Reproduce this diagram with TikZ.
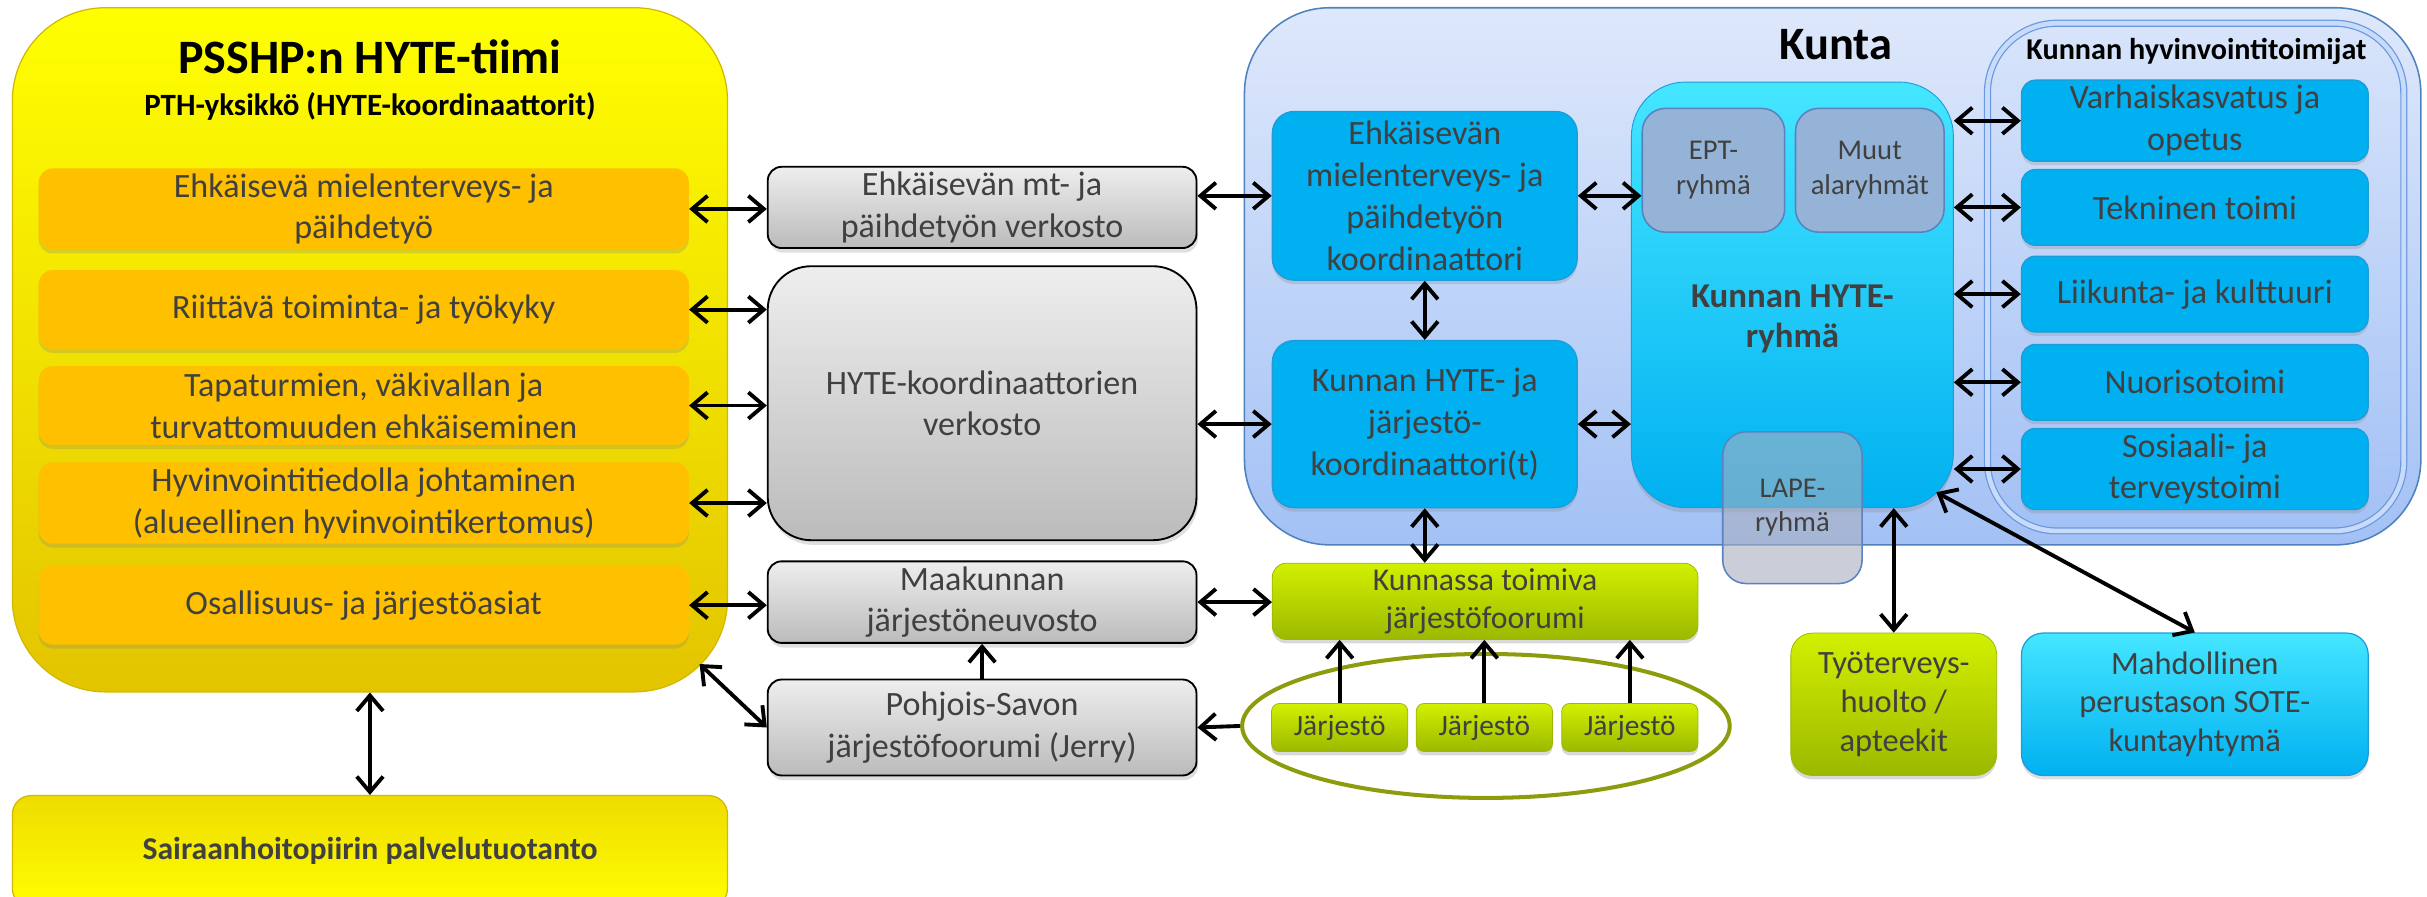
\documentclass[tikz,border=0pt]{standalone}
\usepackage{fontspec}
\setmainfont{Carlito}
\usetikzlibrary{arrows.meta,shadows,shapes.geometric}
\definecolor{textgray}{HTML}{404040}
\definecolor{yellowtop}{HTML}{FFFF00}
\definecolor{yellowbot}{HTML}{E3C400}
\definecolor{yellowedge}{HTML}{D2B800}
\definecolor{amber}{HTML}{FFC000}
\definecolor{silvertop}{HTML}{EEEEEE}
\definecolor{silverbot}{HTML}{BBBBBB}
\definecolor{kuntatop}{HTML}{DEE8FB}
\definecolor{kuntabot}{HTML}{A3C1F5}
\definecolor{kuntaedge}{HTML}{4F81BD}
\definecolor{cyanfill}{HTML}{00B0F0}
\definecolor{cyantop}{HTML}{45E6FF}
\definecolor{cyanedge}{HTML}{1E9CD8}
\definecolor{steel}{HTML}{95B3D7}
\definecolor{steeledge}{HTML}{5B82C0}
\definecolor{lapefill}{HTML}{A8AEC0}
\definecolor{limetop}{HTML}{D2F000}
\definecolor{limebot}{HTML}{9CB800}
\definecolor{olive}{HTML}{8C9C0C}
\definecolor{toimedge}{HTML}{6A98DE}
\definecolor{toimband}{HTML}{C8DBFA}
\tikzset{
        goldbox/.style={rounded corners=60pt, top color=yellowtop, bottom color=yellowbot, draw=yellowedge, line width=0.8pt, minimum width=462pt},
        amberbox/.style={rounded corners=9pt, fill=amber, minimum width=420pt, minimum height=51pt, text=textgray, align=center, font=\fontsize{22}{27}\selectfont, drop shadow={opacity=0.25, shadow xshift=0pt, shadow yshift=-2.5pt}},
        silverbox/.style={rounded corners=9pt, top color=silvertop, bottom color=silverbot, draw=black, line width=1.2pt, minimum width=277pt, text=textgray, align=center, font=\fontsize{22}{27}\selectfont, drop shadow={opacity=0.25, shadow xshift=1pt, shadow yshift=-3pt}},
        kuntabox/.style={rounded corners=55pt, top color=kuntatop, bottom color=kuntabot, draw=kuntaedge, line width=1pt},
        toimbox/.style={rounded corners=45pt, top color=kuntatop!70!toimband, bottom color=kuntabot, draw=toimedge, double=toimband, double distance=3pt, line width=0.8pt},
        cyanbox/.style={rounded corners=14pt, fill=cyanfill, draw=cyanedge, line width=0.8pt, text=textgray, align=center, font=\fontsize{22}{27}\selectfont, drop shadow={opacity=0.25, shadow xshift=0pt, shadow yshift=-2.5pt}},
        hytebox/.style={rounded corners=35pt, top color=cyantop, middle color=cyanfill, bottom color=cyanfill, draw=cyanedge, line width=0.6pt, drop shadow={opacity=0.25, shadow xshift=0pt, shadow yshift=-3pt}},
        steelbox/.style={rounded corners=15pt, fill=steel, draw=steeledge, line width=1pt, text=textgray, align=center, font=\fontsize{18.5}{22.5}\selectfont},
        limebox/.style={rounded corners=9pt, top color=limetop, bottom color=limebot, draw=limebot, line width=0.5pt, text=textgray, align=center, font=\fontsize{20.5}{25}\selectfont, drop shadow={opacity=0.3, shadow xshift=0pt, shadow yshift=-2.5pt}},
        link/.style={<->, >={Straight Barb[length=10pt,width=17pt]}, line width=2.5pt},
        uplink/.style={->, >={Straight Barb[length=10pt,width=17pt]}, line width=2.5pt}
          }

\begin{document}
\begin{tikzpicture}[x=1pt, y=-1pt]
        \useasboundingbox (0,0) rectangle (1568,579);
        \node[goldbox, minimum height=442pt] (team) at (239,226) {};
        \node[font=\bfseries\fontsize{31}{36}\selectfont] (tname) at (239,37) {PSSHP:n HYTE-tiimi};
        \node[font=\bfseries\fontsize{20}{24}\selectfont] (tunit) at (239,69) {PTH-yksikkö (HYTE-koordinaattorit)};
        \node[amberbox] (o1) at (235,135) {Ehkäisevä mielenterveys- ja\\päihdetyö};
        \node[amberbox] (o2) at (235,200) {Riittävä toiminta- ja työkyky};
        \node[amberbox] (o3) at (235,262) {Tapaturmien, väkivallan ja\\turvattomuuden ehkäiseminen};
        \node[amberbox] (o4) at (235,325) {Hyvinvointitiedolla johtaminen\\(alueellinen hyvinvointikertomus)};
        \node[amberbox] (o5) at (235,391) {Osallisuus- ja järjestöasiat};
        \node[goldbox, rounded corners=12pt, top color=yellowbot!60!yellowtop, bottom color=yellowtop, minimum height=72pt, text=textgray, font=\bfseries\fontsize{20.5}{25}\selectfont] (shp) at (239,550) {Sairaanhoitopiirin palvelutuotanto};

        \node[silverbox, minimum height=48pt] (mtnet) at (634.5,134) {Ehkäisevän mt- ja\\päihdetyön verkosto};
        \node[silverbox, rounded corners=28pt, minimum height=177pt] (hytenet) at (634.5,260.5) {HYTE-koordinaattorien\\verkosto};
        \node[silverbox, minimum height=48pt] (maak) at (634.5,389) {Maakunnan\\järjestöneuvosto};
        \node[silverbox, minimum height=62pt] (jerry) at (634.5,470) {Pohjois-Savon\\järjestöfoorumi (Jerry)};

        \node[kuntabox, minimum width=760pt, minimum height=347pt] (kunta) at (1184,178.5) {};
        \node[font=\bfseries\fontsize{30}{36}\selectfont] (kname) at (1186,29) {Kunta};
        \node[toimbox, minimum width=269pt, minimum height=328pt] (toim) at (1418.5,179) {};
        \node[font=\bfseries\fontsize{19.5}{23}\selectfont] (tmname) at (1419,33) {Kunnan hyvinvointitoimijat};
        \node[cyanbox, minimum width=197pt, minimum height=109pt] (ehk) at (920.5,126.5) {Ehkäisevän\\mielenterveys- ja\\päihdetyön\\koordinaattori};
        \node[cyanbox, minimum width=197pt, minimum height=108pt] (koord) at (920.5,274) {Kunnan HYTE- ja\\järjestö-\\koordinaattori(t)};
        \node[hytebox, minimum width=208pt, minimum height=275pt] (hyte) at (1158,190.5) {};
        \node[font=\bfseries\fontsize{22.5}{26}\selectfont, text=textgray, align=center] (hname) at (1158,206) {Kunnan HYTE-\\ryhmä};
        \node[steelbox, minimum width=92pt, minimum height=80pt] (ept) at (1107,110) {EPT-\\ryhmä};
        \node[steelbox, minimum width=96pt, minimum height=80pt] (muut) at (1208,110) {Muut\\alaryhmät};
        \node[steelbox, fill=lapefill, fill opacity=0.6, text opacity=1, minimum width=90pt, minimum height=98pt] (lape) at (1158,328) {LAPE-\\ryhmä};
        \node[cyanbox, rounded corners=9pt, minimum width=224pt, minimum height=49pt] (t1) at (1418,78) {Varhaiskasvatus ja\\opetus};
        \node[cyanbox, rounded corners=9pt, minimum width=224pt, minimum height=49pt] (t2) at (1418,134) {Tekninen toimi};
        \node[cyanbox, rounded corners=9pt, minimum width=224pt, minimum height=49pt] (t3) at (1418,190) {Liikunta- ja kulttuuri};
        \node[cyanbox, rounded corners=9pt, minimum width=224pt, minimum height=49pt] (t4) at (1418,247) {Nuorisotoimi};
        \node[cyanbox, rounded corners=9pt, minimum width=224pt, minimum height=49pt] (t5) at (1418,303) {Sosiaali- ja\\terveystoimi};

        \node[limebox, minimum width=275pt, minimum height=49pt] (forum) at (959.5,388.5) {Kunnassa toimiva\\järjestöfoorumi};
        \node[ellipse, draw=olive, line width=2.6pt, minimum width=315pt, minimum height=93pt] (ring) at (960,469) {};
        \node[limebox, rounded corners=5pt, minimum width=88pt, minimum height=31pt, font=\fontsize{19}{23}\selectfont] (j1) at (865.5,470) {Järjestö};
        \node[limebox, rounded corners=5pt, minimum width=88pt, minimum height=31pt, font=\fontsize{19}{23}\selectfont] (j2) at (959,470) {Järjestö};
        \node[limebox, rounded corners=5pt, minimum width=88pt, minimum height=31pt, font=\fontsize{19}{23}\selectfont] (j3) at (1053,470) {Järjestö};
        \node[limebox, rounded corners=14pt, minimum width=133pt, minimum height=92pt, font=\fontsize{21}{25}\selectfont] (tth) at (1223.5,455) {Työterveys-\\huolto /\\apteekit};
        \node[cyanbox, top color=cyantop, middle color=cyanfill, bottom color=cyanfill, minimum width=224pt, minimum height=92pt, font=\fontsize{21}{25}\selectfont] (sote) at (1418,455) {Mahdollinen\\perustason SOTE-\\kuntayhtymä};

        \coordinate (teamcorner) at (452,429);
        \coordinate (hytecorner) at (1251,318);

        \draw[link] (o1.east) -- (o1.east -| mtnet.west);
        \draw[link] (o2.east) -- (o2.east -| hytenet.west);
        \draw[link] (o3.east) -- (o3.east -| hytenet.west);
        \draw[link] (o4.east) -- (o4.east -| hytenet.west);
        \draw[link] (o5.east) -- (o5.east -| maak.west);
        \draw[link] (team.south) -- (shp.north);
        \draw[link] (teamcorner) -- (jerry.west);
        \draw[uplink] (jerry.north) -- (maak.south);
        \draw[link] (mtnet.east |- ehk.west) -- (ehk.west);
        \draw[link] (hytenet.east |- koord.west) -- (koord.west);
        \draw[link] (maak.east) -- (maak.east -| forum.west);
        \draw[uplink] (ring.west) -- (jerry.east);
        \draw[link] (ehk.south) -- (koord.north);
        \draw[link] (koord.south) -- (koord.south |- forum.north);
        \draw[link] (ehk.east) -- (ehk.east -| ept.west);
        \draw[link] (koord.east) -- (koord.east -| hyte.west);
        \draw[uplink] (j1.north) -- (j1.north |- forum.south);
        \draw[uplink] (j2.north) -- (j2.north |- forum.south);
        \draw[uplink] (j3.north) -- (j3.north |- forum.south);
        \draw[link] (hyte.east |- t1.west) -- (t1.west);
        \draw[link] (hyte.east |- t2.west) -- (t2.west);
        \draw[link] (hyte.east |- t3.west) -- (t3.west);
        \draw[link] (hyte.east |- t4.west) -- (t4.west);
        \draw[link] (hyte.east |- t5.west) -- (t5.west);
        \draw[link] (tth.north) -- (tth.north |- hyte.south);
        \draw[link] (hytecorner) -- (sote.north);
\end{tikzpicture}
\end{document}
